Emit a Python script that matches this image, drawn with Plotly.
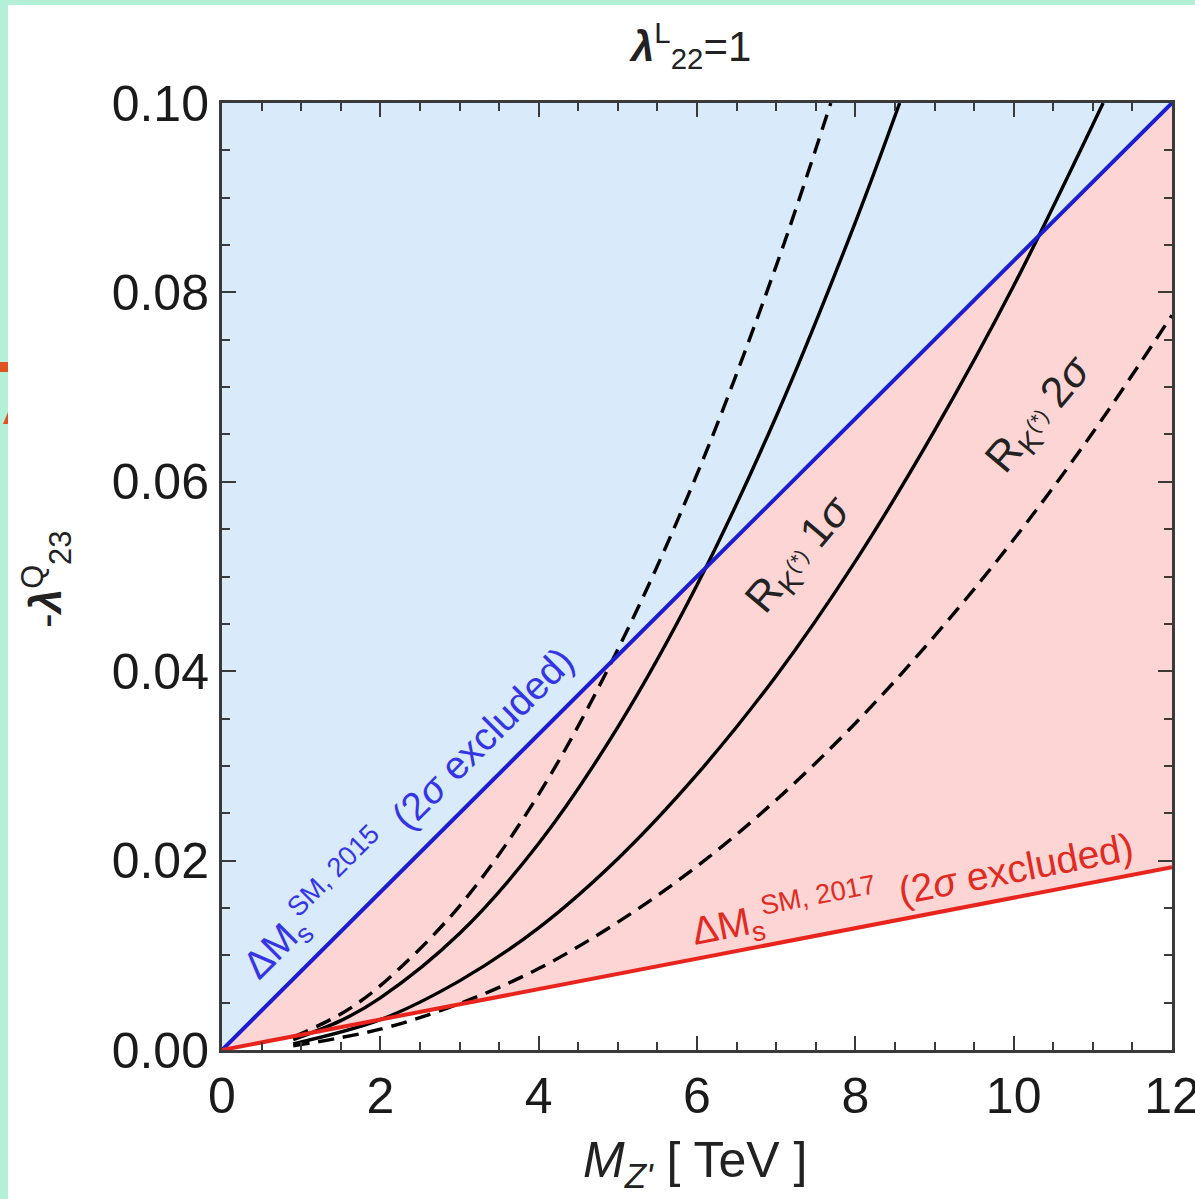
import plotly.graph_objects as go

# ---------------- data ----------------
mz_line = [0, 12]
dms_2015 = [0.0, 0.100]     # Delta M_s^{SM,2015} 2 sigma boundary
dms_2017 = [0.0, 0.0193]    # Delta M_s^{SM,2017} 2 sigma boundary
y_top = [0.10, 0.10]

mz_1s_dash = [0.9, 1.5, 2, 3, 4, 5, 6, 7, 7.69]
lam_1s_dash = [0.00137, 0.0038, 0.0068, 0.0152, 0.0270, 0.0423, 0.0608, 0.0828, 0.100]

mz_1s_solid = [0.9, 1.5, 2, 3, 4, 5, 6, 7, 8, 8.56]
lam_1s_solid = [0.0011, 0.0031, 0.0055, 0.0123, 0.0218, 0.0341, 0.0491, 0.0669, 0.0874, 0.100]

mz_2s_solid = [0.9, 2, 3, 4, 5, 6, 7, 8, 9, 10, 11.13]
lam_2s_solid = [0.00065, 0.0032, 0.0073, 0.0129, 0.0202, 0.0291, 0.0395, 0.0516, 0.0654, 0.0807, 0.100]

mz_2s_dash = [0.9, 2, 3, 4, 5, 6, 7, 8, 9, 10, 11, 12]
lam_2s_dash = [0.00044, 0.0022, 0.0049, 0.0086, 0.0135, 0.0194, 0.0264, 0.0345, 0.0437, 0.0539, 0.0652, 0.0776]

x_ticks = [0, 2, 4, 6, 8, 10, 12]
y_ticks = [0.00, 0.02, 0.04, 0.06, 0.08, 0.10]

# ---------------- styling ----------------
W, H = 1195, 1199
L, R, T, B = 222, 23, 103, 149
FONT = "Liberation Sans, Arial, sans-serif"
BLUE = "#1c1cd0"
RED = "#e8241c"
LIGHTBLUE = "#d9ebfb"
PINK = "#fdd5d5"
AXC = "#3a3a3a"


def px2paper(px, py):
    return (px - L) / (W - L - R), (H - B - py) / (H - T - B)


fig = go.Figure()

# light blue region above the 2015 line
fig.add_trace(go.Scatter(x=mz_line, y=dms_2015, mode="lines",
                         line=dict(width=0, color=BLUE), hoverinfo="skip", showlegend=False))
fig.add_trace(go.Scatter(x=mz_line, y=y_top, mode="lines", fill="tonexty",
                         fillcolor=LIGHTBLUE, line=dict(width=0, color=LIGHTBLUE),
                         hoverinfo="skip", showlegend=False))
# pink region between 2015 and 2017 lines
fig.add_trace(go.Scatter(x=mz_line, y=dms_2015, mode="lines",
                         line=dict(width=0, color=BLUE), hoverinfo="skip", showlegend=False))
fig.add_trace(go.Scatter(x=mz_line, y=dms_2017, mode="lines", fill="tonexty",
                         fillcolor=PINK, line=dict(width=0, color=PINK),
                         hoverinfo="skip", showlegend=False))

# R_K curves
DASH = "16px,9px"
for xs, ys, dash in [(mz_1s_dash, lam_1s_dash, DASH),
                     (mz_1s_solid, lam_1s_solid, "solid"),
                     (mz_2s_solid, lam_2s_solid, "solid"),
                     (mz_2s_dash, lam_2s_dash, DASH)]:
    fig.add_trace(go.Scatter(x=xs, y=ys, mode="lines",
                             line=dict(color="black", width=3.4, dash=dash, shape="spline"),
                             showlegend=False))

# boundary lines
fig.add_trace(go.Scatter(x=mz_line, y=dms_2015, mode="lines",
                         line=dict(color=BLUE, width=4), showlegend=False))
fig.add_trace(go.Scatter(x=mz_line, y=dms_2017, mode="lines",
                         line=dict(color=RED, width=4), showlegend=False))

annotations = []
# in-plot labels
annotations.append(dict(x=2.35, y=0.0250, xref="x", yref="y",
                        text="ΔM<sub>s</sub><sup>SM, 2015</sup>  (2<i>σ</i> excluded)",
                        textangle=-45, showarrow=False,
                        font=dict(family=FONT, size=39, color="#3535e6")))
annotations.append(dict(x=8.72, y=0.0170, xref="x", yref="y",
                        text="ΔM<sub>s</sub><sup>SM, 2017</sup>  (2<i>σ</i> excluded)",
                        textangle=-11, showarrow=False,
                        font=dict(family=FONT, size=39, color="#e02a22")))
annotations.append(dict(x=7.30, y=0.0523, xref="x", yref="y",
                        text="R<sub>K<sup>(*)</sup></sub> 1<i>σ</i>",
                        textangle=-50, showarrow=False,
                        font=dict(family=FONT, size=43, color="#222")))
annotations.append(dict(x=10.33, y=0.0671, xref="x", yref="y",
                        text="R<sub>K<sup>(*)</sup></sub> 2<i>σ</i>",
                        textangle=-50, showarrow=False,
                        font=dict(family=FONT, size=43, color="#222")))

# titles
tx, ty = px2paper(690, 45)
annotations.append(dict(x=tx, y=ty, xref="paper", yref="paper",
                        text="<b><i>λ</i></b><sup>L</sup><sub>22</sub>=1",
                        showarrow=False, xanchor="center", yanchor="middle",
                        font=dict(family=FONT, size=42, color="#222")))
xx, xy = px2paper(695, 1163)
annotations.append(dict(x=xx, y=xy, xref="paper", yref="paper",
                        text="<i>M</i><sub><i>Z'</i></sub> [ TeV ]",
                        showarrow=False, xanchor="center", yanchor="middle",
                        font=dict(family=FONT, size=50, color="#222")))
yx, yy = px2paper(46, 580)
annotations.append(dict(x=yx, y=yy, xref="paper", yref="paper",
                        text="-<b><i>λ</i></b><sup>Q</sup><sub>23</sub>",
                        textangle=-90, showarrow=False, xanchor="center", yanchor="middle",
                        font=dict(family=FONT, size=44, color="#222")))

# screenshot frame artefacts (mint border, orange marks)
shapes = []
MINT = "#b3f0d8"
x0, _ = px2paper(0, 0)
x1, _ = px2paper(8, 0)
_, yb = px2paper(0, H)
_, yt = px2paper(0, 0)
_, yt5 = px2paper(0, 5)
shapes.append(dict(type="rect", xref="paper", yref="paper", x0=x0, x1=x1, y0=yb, y1=yt,
                   fillcolor=MINT, line=dict(width=0), layer="above"))
xr, _ = px2paper(W, 0)
shapes.append(dict(type="rect", xref="paper", yref="paper", x0=x0, x1=xr, y0=yt5, y1=yt,
                   fillcolor=MINT, line=dict(width=0), layer="above"))
ox0, oy0 = px2paper(0, 372)
ox1, oy1 = px2paper(8, 362)
shapes.append(dict(type="rect", xref="paper", yref="paper", x0=ox0, x1=ox1, y0=oy0, y1=oy1,
                   fillcolor="#e0521f", line=dict(width=0), layer="above"))
ax0, ay0 = px2paper(3, 424)
ax1, ay1 = px2paper(8, 412)
ax2, ay2 = px2paper(8, 424)
shapes.append(dict(type="path", xref="paper", yref="paper",
                   path=f"M {ax0} {ay0} L {ax1} {ay1} L {ax2} {ay2} Z",
                   fillcolor="#e0521f", line=dict(width=0), layer="above"))

axis_common = dict(showline=True, linewidth=3, linecolor=AXC, mirror="ticks",
                   ticks="inside", ticklen=14, tickwidth=2, tickcolor=AXC,
                   showgrid=False, zeroline=False, ticklabeloverflow="allow",
                   automargin=False,
                   tickfont=dict(family=FONT, size=50, color="#1a1a1a"))

fig.update_layout(
    width=W, height=H, autosize=False,
    margin=dict(l=L, r=R, t=T, b=B, pad=0, autoexpand=False),
    paper_bgcolor="white", plot_bgcolor="white",
    xaxis=dict(range=[0, 12], tickvals=x_ticks, ticktext=[str(v) for v in x_ticks],
               minor=dict(dtick=0.5, ticks="inside", ticklen=8, tickwidth=2, tickcolor=AXC),
               **axis_common),
    yaxis=dict(range=[0, 0.10], tickvals=y_ticks, ticktext=[f"{v:.2f}" for v in y_ticks],
               minor=dict(dtick=0.005, ticks="inside", ticklen=8, tickwidth=2, tickcolor=AXC),
               **axis_common),
    annotations=annotations,
    shapes=shapes,
    showlegend=False,
)

fig.write_html("out.html",
               config={"responsive": False, "displayModeBar": False},
               post_script="document.body.style.margin='0px';")
